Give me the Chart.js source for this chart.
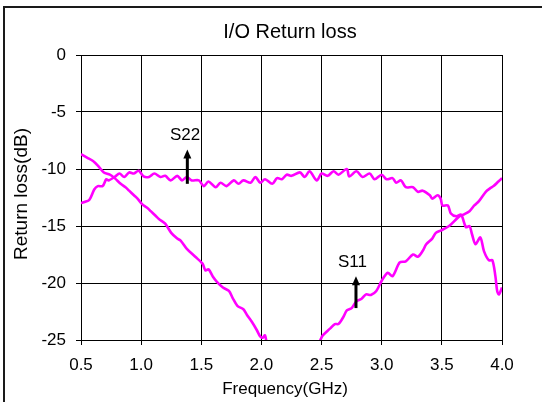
<!DOCTYPE html>
<html>
<head>
<meta charset="utf-8">
<title>I/O Return loss</title>
<script src="https://cdn.jsdelivr.net/npm/chart.js@4.4.1/dist/chart.umd.min.js"></script>
<style>
  html, body { margin: 0; padding: 0; background: #fff; overflow: hidden; }
  canvas { display: block; }
</style>
</head>
<body>
<canvas id="c" width="542" height="402"></canvas>
<script>
// Measured return loss, frequency in GHz, loss in dB
const s11Freq = [0.50, 0.55, 0.60, 0.64, 0.69, 0.74, 0.78, 0.83, 0.87, 0.90, 0.94, 0.97, 1.01, 1.05, 1.08, 1.12, 1.15, 1.20, 1.25, 1.30,
  1.33, 1.38, 1.45, 1.51, 1.535, 1.56, 1.60, 1.63, 1.68, 1.73, 1.76, 1.80, 1.85, 1.88, 1.92, 1.96, 1.99, 2.01, 2.03, 2.05,
  2.10, 2.20, 2.30, 2.40, 2.45, 2.49, 2.51, 2.57, 2.61, 2.64, 2.68, 2.71, 2.75, 2.79, 2.83, 2.87, 2.91, 2.955, 3.00, 3.05,
  3.09, 3.15, 3.20, 3.26, 3.30, 3.34, 3.37, 3.42, 3.45, 3.49, 3.56, 3.64, 3.68, 3.73, 3.77, 3.81, 3.865, 3.90, 3.93, 3.97, 4.00];
const s11Loss = [-8.7, -9.0, -9.3, -9.7, -10.3, -10.5, -10.8, -11.3, -11.6, -11.9, -12.3, -12.6, -13.1, -13.4, -13.7, -14.1, -14.4, -14.8, -15.6, -16.1,
  -16.3, -17.0, -17.7, -18.3, -18.9, -18.8, -19.5, -19.9, -20.4, -20.7, -21.3, -22.0, -22.3, -22.8, -23.4, -24.1, -24.7, -24.8, -24.6, -25.6,
  -26.8, -28.5, -29.0, -27.0, -25.8, -25.0, -24.6, -24.0, -23.6, -23.6, -23.0, -22.4, -22.2, -21.6, -21.4, -21.0, -21.05, -20.7, -19.8, -19.1,
  -19.4, -18.2, -18.1, -17.5, -17.7, -17.2, -16.6, -16.1, -15.6, -15.4, -15.0, -14.2, -14.0, -13.7, -13.2, -12.8, -12.0, -11.7, -11.5, -11.1, -10.8];

const s22Freq = [0.50, 0.53, 0.57, 0.61, 0.64, 0.68, 0.71, 0.73, 0.78, 0.82, 0.86, 0.90, 0.94, 0.98, 1.02, 1.065, 1.11, 1.16, 1.20, 1.245,
  1.30, 1.34, 1.38, 1.42, 1.48, 1.52, 1.56, 1.62, 1.66, 1.71, 1.77, 1.81, 1.85, 1.91, 1.95, 1.99, 2.03, 2.09, 2.13, 2.17,
  2.21, 2.25, 2.32, 2.36, 2.40, 2.46, 2.50, 2.55, 2.60, 2.64, 2.71, 2.73, 2.79, 2.84, 2.90, 2.94, 3.00, 3.04, 3.09, 3.12,
  3.16, 3.20, 3.26, 3.30, 3.34, 3.40, 3.42, 3.465, 3.49, 3.505, 3.55, 3.575, 3.62, 3.66, 3.70, 3.73, 3.75, 3.78, 3.82, 3.85,
  3.89, 3.92, 3.945, 3.96, 3.975, 4.00];
const s22Loss = [-13.0, -12.9, -12.7, -11.8, -11.5, -11.5, -10.9, -11.0, -10.7, -10.4, -10.7, -10.3, -10.4, -10.15, -10.65, -10.7, -10.4, -10.7, -10.6, -11.0,
  -10.6, -11.0, -10.7, -11.0, -11.0, -11.5, -11.1, -11.6, -11.2, -11.5, -11.0, -11.3, -11.0, -11.2, -10.7, -11.2, -10.9, -11.3, -10.8, -10.9,
  -10.5, -10.6, -10.3, -10.7, -10.2, -11.0, -10.4, -10.6, -10.2, -10.5, -10.0, -10.65, -10.2, -10.7, -10.4, -10.9, -10.5, -10.9, -10.8, -11.2,
  -11.0, -11.6, -11.6, -12.0, -11.9, -12.3, -12.6, -12.3, -12.6, -13.2, -13.2, -13.9, -14.15, -14.0, -15.1, -15.0, -15.7, -16.6, -16.0, -17.2,
  -18.0, -18.0, -19.4, -20.7, -21.0, -20.4];

// Axis tick labels
const freqTicks = ['0.5', '1.0', '1.5', '2.0', '2.5', '3.0', '3.5', '4.0'];
const lossTicks = ['0', '-5', '-10', '-15', '-20', '-25'];

// Curve markers: name, arrow position (GHz), arrow foot and tip (dB), label position
const markerNames = ['S22', 'S11'];
const markerFreq = [1.384, 2.786];
const markerFoot = [-11.3, -22.2];
const markerTip = [-8.3, -19.4];
const markerLabelFreq = [1.365, 2.757];
const markerLabelLoss = [-7.05, -18.2];

const FONT = '"Liberation Sans", Arial, Helvetica, sans-serif';
const INK = '#000';
const TRACE = '#ff00ff';

const toPoints = (xs, ys) => xs.map((x, i) => ({ x: x, y: ys[i] }));

const decor = {
  id: 'decor',
  afterDatasetsDraw(chart) {
    const ctx = chart.ctx;
    const xs = chart.scales.x, ys = chart.scales.y;
    ctx.save();
    markerNames.forEach((name, i) => {
      const px = xs.getPixelForValue(markerFreq[i]);
      const foot = ys.getPixelForValue(markerFoot[i]);
      const tip = ys.getPixelForValue(markerTip[i]);
      ctx.strokeStyle = INK;
      ctx.fillStyle = INK;
      ctx.lineWidth = 3;
      ctx.beginPath();
      ctx.moveTo(px, foot);
      ctx.lineTo(px, tip + 7);
      ctx.stroke();
      ctx.beginPath();
      ctx.moveTo(px, tip);
      ctx.lineTo(px - 4, tip + 9);
      ctx.lineTo(px + 4, tip + 9);
      ctx.closePath();
      ctx.fill();
      ctx.font = '17px ' + FONT;
      ctx.textAlign = 'center';
      ctx.textBaseline = 'middle';
      ctx.fillText(name, xs.getPixelForValue(markerLabelFreq[i]), ys.getPixelForValue(markerLabelLoss[i]));
    });
    ctx.restore();
  },
  afterDraw(chart) {
    const ctx = chart.ctx;
    ctx.save();
    // outer frame
    ctx.strokeStyle = '#1a1a1a';
    ctx.lineWidth = 2;
    ctx.strokeRect(4, 7, 700, 600);
    ctx.fillStyle = INK;
    ctx.textAlign = 'center';
    // chart title
    ctx.font = '20px ' + FONT;
    ctx.textBaseline = 'alphabetic';
    ctx.fillText('I/O Return loss', 290, 38);
    // x axis title
    ctx.font = '17px ' + FONT;
    ctx.fillText('Frequency(GHz)', 285, 394);
    // y axis title
    ctx.translate(22, 194);
    ctx.rotate(-Math.PI / 2);
    ctx.font = '19px ' + FONT;
    ctx.textBaseline = 'middle';
    ctx.fillText('Return loss(dB)', 0, 0);
    ctx.restore();
  }
};

const tickFont = { family: FONT, size: 17 };

new Chart(document.getElementById('c'), {
  type: 'line',
  data: {
    datasets: [
      { label: 'S22', data: toPoints(s22Freq, s22Loss), borderColor: TRACE, borderWidth: 2.6, pointRadius: 0, tension: 0.3, fill: false },
      { label: 'S11', data: toPoints(s11Freq, s11Loss), borderColor: TRACE, borderWidth: 2.6, pointRadius: 0, tension: 0.3, fill: false }
    ]
  },
  options: {
    responsive: false,
    animation: false,
    devicePixelRatio: 1,
    layout: { padding: { top: 55, right: 40, left: 0, bottom: 0 } },
    plugins: { legend: { display: false }, tooltip: { enabled: false }, title: { display: false } },
    scales: {
      x: {
        type: 'linear',
        min: 0.5,
        max: 4.0,
        afterFit(s) { s.height = 62; },
        afterBuildTicks(s) { s.ticks = freqTicks.map(t => ({ value: parseFloat(t) })); },
        ticks: {
          padding: 10, color: INK, font: tickFont, maxRotation: 0, autoSkip: false,
          callback: (v) => freqTicks.find(t => Math.abs(parseFloat(t) - v) < 1e-6) || ''
        },
        grid: { color: INK, lineWidth: 1, tickLength: 5, drawTicks: true },
        border: { color: INK, width: 1 }
      },
      y: {
        type: 'linear',
        min: -25,
        max: 0,
        afterFit(s) { s.width = 81; },
        afterBuildTicks(s) { s.ticks = lossTicks.map(t => ({ value: parseFloat(t) })); },
        ticks: {
          padding: 10, color: INK, font: tickFont, autoSkip: false,
          callback: (v) => lossTicks.find(t => Math.abs(parseFloat(t) - v) < 1e-6) || ''
        },
        grid: { color: INK, lineWidth: 1, tickLength: 5, drawTicks: true },
        border: { color: INK, width: 1 }
      }
    }
  },
  plugins: [decor]
});
</script>
</body>
</html>
